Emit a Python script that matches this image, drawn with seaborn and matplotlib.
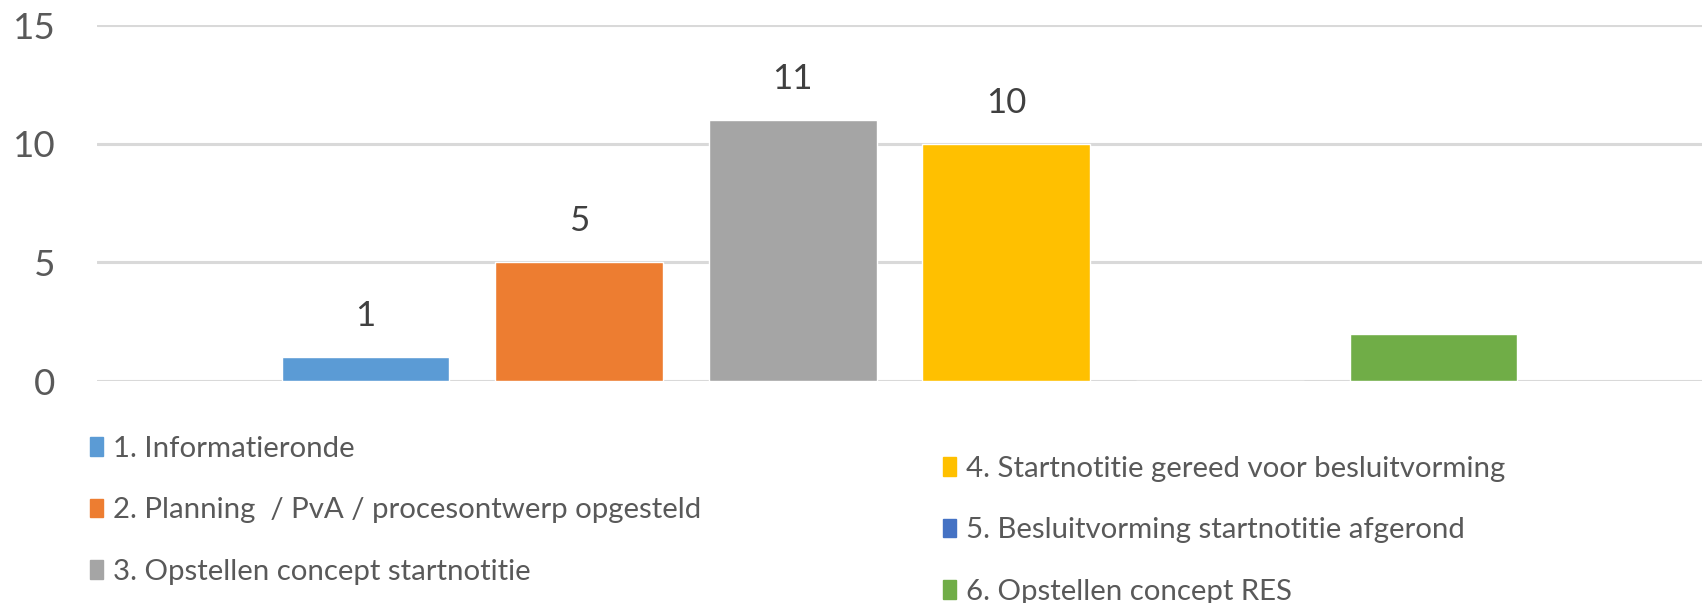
import matplotlib.pyplot as plt
import matplotlib.patches as mpatches
import seaborn as sns
import pandas as pd

# stages of the RES process and number of municipalities per stage
stages = ['1. Informatieronde',
          '2. Planning  / PvA / procesontwerp opgesteld',
          '3. Opstellen concept startnotitie',
          '4. Startnotitie gereed voor besluitvorming',
          '5. Besluitvorming startnotitie afgerond',
          '6. Opstellen concept RES']
counts = [1, 5, 11, 10, 0, 2]
bar_labels = ['1', '5', '11', '10', '', '']
colors = ['#5B9BD5', '#ED7D31', '#A5A5A5', '#FFC000', '#4472C4', '#70AD47']

df = pd.DataFrame({'stage': stages, 'count': counts})

sns.set_style('white')
plt.rcParams['font.family'] = ['Lato', 'DejaVu Sans']
text_col = '#595959'

fig = plt.figure(figsize=(17.08, 6.03), dpi=100)
ax = fig.add_axes([0.0568, 0.368, 0.9397, 0.5905])

sns.barplot(data=df, x='stage', y='count', hue='stage', palette=colors,
            width=0.786, saturation=1, legend=False, ax=ax, zorder=3)

for c, lab in zip(ax.containers, bar_labels):
    ax.bar_label(c, labels=[lab], padding=18, fontsize=25, color='#404040')

ax.set_ylim(0, 15)
ax.set_yticks([0, 5, 10, 15])
ax.set_xlim(2.5 - 3.757, 2.5 + 3.757)
ax.set_xticks([])
ax.set_xlabel('')
ax.set_ylabel('')
ax.yaxis.grid(True, color='#D9D9D9', linewidth=2.2, zorder=0)
ax.tick_params(axis='y', length=0, pad=30, labelsize=26.5, labelcolor=text_col)
sns.despine(ax=ax, left=True, bottom=True)

# legend in two columns, the right one a bit lower
handles = [mpatches.Patch(color=c, label=s) for c, s in zip(colors, stages)]
kw = dict(frameon=False, fontsize=21.2, labelcolor=text_col, handlelength=0.45,
          handleheight=0.6, handletextpad=0.32, labelspacing=1.2, borderpad=0,
          borderaxespad=0)
leg1 = fig.legend(handles=handles[:3], loc='upper left',
                  bbox_to_anchor=(90 / 1708, 1 - 436 / 603), **kw)
leg2 = fig.legend(handles=handles[3:], loc='upper left',
                  bbox_to_anchor=(943 / 1708, 1 - 456 / 603), **kw)

fig.savefig('out.png', dpi=100)
